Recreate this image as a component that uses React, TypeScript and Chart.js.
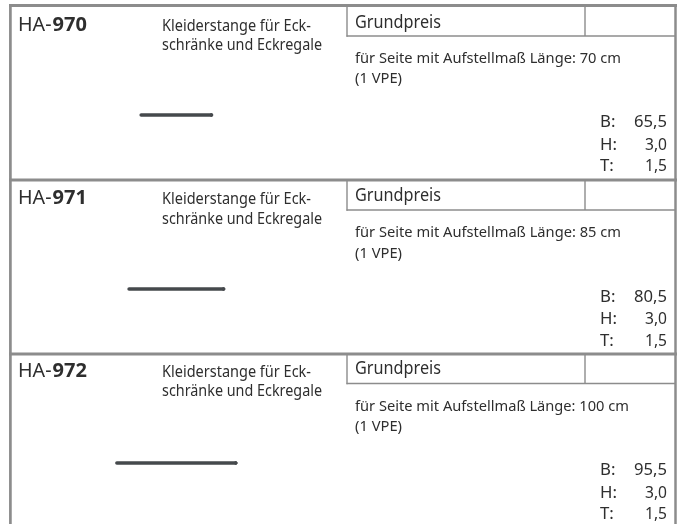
import React, { useEffect, useRef } from "react";
import { Chart, registerables } from "chart.js";

Chart.register(...registerables);

const articleNumbers = ["970", "971", "972"];
const descriptionLines = ["Kleiderstange für Eck-", "schränke und Eckregale"];
const priceLabel = "Grundpreis";
const setupLengths = ["70", "85", "100"];
const packLabel = "(1 VPE)";
const widths = ["65,5", "80,5", "95,5"];
const heights = ["3,0", "3,0", "3,0"];
const depths = ["1,5", "1,5", "1,5"];
const rodLengths = [70.2, 94.4, 118.8];

// layout, in canvas units
const W = 683, H = 524;
const rowTops = [5.5, 180, 354];
const boxBottoms = [36, 210, 383.5];
const headOffsets = [0, 173.3, 346];
const midOffsets = [0, 173.7, 347.7];
const lowerOffsets = [0, 174.6, 348];
const rodY = [115, 289, 463];
const rodCenterX = 176.3;
const GRID = "#8c8c8c";
const TEXT = "#2e2e2e";
const FONT = '"Noto Sans"';

const rodData = (i: number) => [
  { x: rodCenterX - rodLengths[i] / 2, y: rodY[i] },
  { x: rodCenterX + rodLengths[i] / 2, y: rodY[i] },
];

const tablePlugin = {
  id: "table",
  beforeDatasetsDraw(chart: any) {
    const { ctx, scales } = chart;
    const X = (v: number) => scales.x.getPixelForValue(v);
    const Y = (v: number) => scales.y.getPixelForValue(v);
    const line = (x1: number, y1: number, x2: number, y2: number, w: number) => {
      ctx.beginPath();
      ctx.moveTo(X(x1), Y(y1));
      ctx.lineTo(X(x2), Y(y2));
      ctx.lineWidth = w;
      ctx.strokeStyle = GRID;
      ctx.stroke();
    };
    const text = (s: string, x: number, y: number, size: number, opts: any = {}) => {
      ctx.font = `${opts.bold ? "700 " : ""}${size}px ${FONT}`;
      ctx.fillStyle = TEXT;
      ctx.textAlign = opts.align || "left";
      ctx.textBaseline = "alphabetic";
      ctx.fillText(s, X(x), Y(y), opts.max);
    };
    ctx.save();
    line(10.4, 4, 10.4, H, 2.7);
    line(675.5, 4, 675.5, H, 2.5);
    rowTops.forEach((top, i) => {
      line(9, top, 677, top, 3);
      line(347, top, 347, boxBottoms[i] + 0.7, 1.4);
      line(585, top, 585, boxBottoms[i], 1.4);
      line(346.5, boxBottoms[i], 675, boxBottoms[i], 1.4);
      const h = headOffsets[i];
      const m = midOffsets[i];
      const l = lowerOffsets[i];
      text("HA-", 18, 30.5 + h, 20, { max: 33.5 });
      text(articleNumbers[i], 52.5, 30.5 + h, 20, { bold: true, max: 35 });
      text(descriptionLines[0], 162, 31 + h, 15.4, { max: 149 });
      text(descriptionLines[1], 162, 50.3 + h, 15.4, { max: 160 });
      text(priceLabel, 355, 28 + h, 17.4, { max: 86 });
      text(`für Seite mit Aufstellmaß Länge: ${setupLengths[i]} cm`, 355, 63 + m, 15.3, { max: i === 2 ? 274 : 266 });
      text(packLabel, 355, 83 + l, 15.3, { max: 47 });
      text("B:", 600, 127 + l, 16.8);
      text("H:", 600, 149.5 + l, 16.8);
      text("T:", 600, 171 + l, 16.8);
      text(widths[i], 667, 127 + l, 16.8, { align: "right", max: 33 });
      text(heights[i], 667, 149.5 + l, 16.8, { align: "right", max: 22 });
      text(depths[i], 667, 171 + l, 16.8, { align: "right", max: 22 });
    });
    ctx.restore();
  },
};

export default function App() {
  const ref = useRef<HTMLCanvasElement>(null);
  useEffect(() => {
    const datasets: any[] = [];
    rodLengths.forEach((_, i) => {
      const d = rodData(i);
      datasets.push({
        data: d,
        borderColor: "#45494c",
        borderWidth: 3.6,
        borderCapStyle: "round",
        pointRadius: 0,
      });
      datasets.push({
        data: d,
        borderColor: "#a4a9ac",
        borderWidth: 1.8,
        pointRadius: 0,
      });
      datasets.push({
        data: [{ x: d[1].x, y: d[1].y }],
        showLine: false,
        pointRadius: 1.4,
        pointBorderWidth: 1,
        pointBorderColor: "#33363a",
        pointBackgroundColor: "#c4c8ca",
      });
    });
    const chart = new Chart(ref.current!, {
      type: "line",
      data: { datasets },
      options: {
        animation: false,
        responsive: false,
        parsing: false,
        layout: { padding: 0, autoPadding: false },
        plugins: { legend: { display: false }, tooltip: { enabled: false }, title: { display: false } },
        scales: {
          x: { type: "linear", display: false, min: 0, max: W },
          y: { type: "linear", display: false, min: 0, max: H, reverse: true },
        },
      },
      plugins: [tablePlugin],
    } as any);
    return () => chart.destroy();
  }, []);
  return (
    <canvas
      ref={ref}
      width={W}
      height={H}
      style={{ position: "fixed", left: 0, top: 0, width: W, height: H, background: "#fff" }}
    />
  );
}
